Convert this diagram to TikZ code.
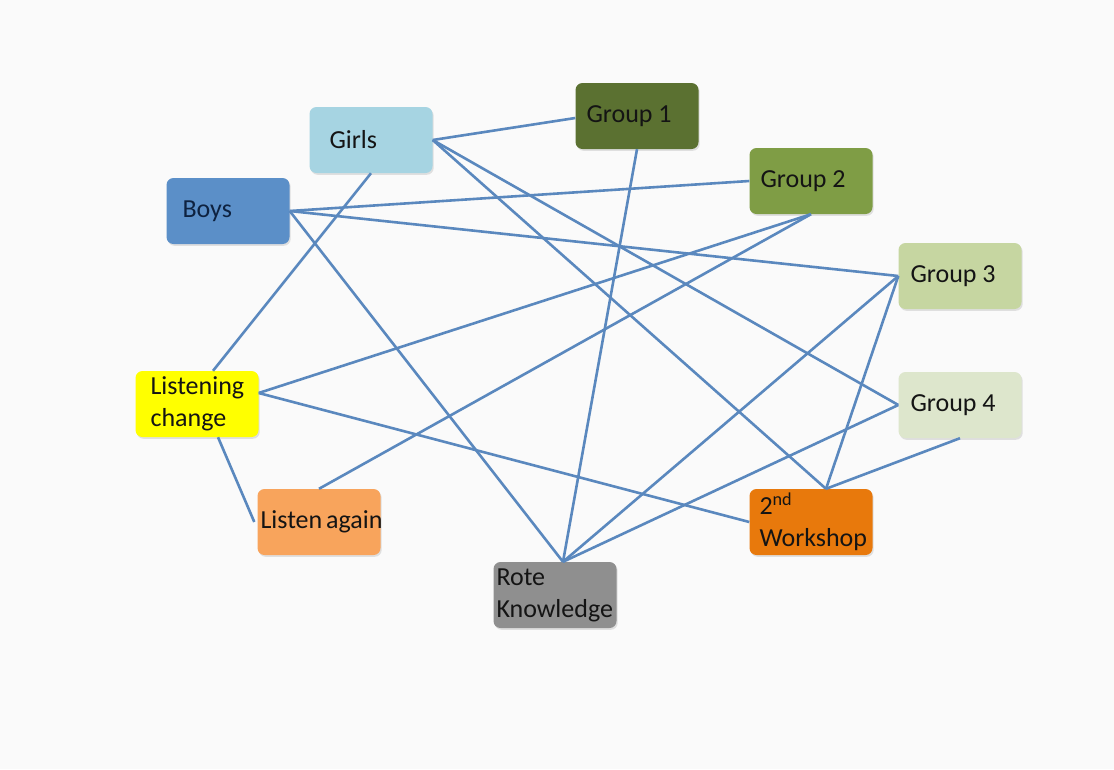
\documentclass[tikz,border=0pt]{standalone}
\usepackage{fontspec}
\setmainfont{Carlito}
\usetikzlibrary{shadows}
\definecolor{bgc}{HTML}{FAFAFA}
\definecolor{linkc}{HTML}{5A88BE}
\definecolor{girlsc}{HTML}{A6D4E2}
\definecolor{boysc}{HTML}{5B8FC8}
\definecolor{gonec}{HTML}{5B7131}
\definecolor{gtwoc}{HTML}{7F9D45}
\definecolor{gthreec}{HTML}{C6D6A1}
\definecolor{gfourc}{HTML}{DDE6CC}
\definecolor{lcc}{HTML}{FFFF00}
\definecolor{lac}{HTML}{F8A45C}
\definecolor{rotec}{HTML}{8F8F8F}
\definecolor{wsc}{HTML}{E8790C}
\definecolor{txtc}{HTML}{141414}
\definecolor{boystxt}{HTML}{0E2240}
\begin{document}
\begin{tikzpicture}[x=1pt,y=-1pt,
  box/.style={rectangle, rounded corners=7pt, minimum width=123pt, minimum height=66pt,
    align=flush left, text=txtc, font=\fontsize{26}{32}\selectfont, inner ysep=1pt,
    drop shadow={opacity=0.22, shadow xshift=1.2pt, shadow yshift=-1.8pt}},
  link/.style={draw=linkc, line width=2.6pt}]
\fill[bgc] (0,0) rectangle (1114,769);
\useasboundingbox (0,0) rectangle (1114,769);

\node[box, fill=girlsc, inner xsep=20pt, text width=83pt] (girls) at (371,140) {Girls};
\node[box, fill=boysc, inner xsep=16pt, text width=91pt, text=boystxt] (boys) at (228,211) {Boys};
\node[box, fill=gonec, inner xsep=11pt, text width=101pt] (g1) at (637,116) {Group 1};
\node[box, fill=gtwoc, inner xsep=11pt, text width=101pt] (g2) at (811,181) {Group 2};
\node[box, fill=gthreec, inner xsep=12pt, text width=99pt] (g3) at (960,276) {Group 3};
\node[box, fill=gfourc, inner xsep=12pt, text width=99pt] (g4) at (960,405) {Group 4};
\node[box, fill=lcc, inner xsep=15pt, text width=93pt] (lc) at (197,404) {Listening\\change};
\node[box, fill=lac, inner xsep=3pt, text width=117pt] (la) at (319,522) {Listen~again};
\node[box, fill=rotec, inner xsep=3pt, text width=117pt] (rote) at (555,595) {Rote\\Knowledge};
\node[box, fill=wsc, inner xsep=10pt, text width=103pt] (ws) at (811,522) {2\textsuperscript{nd}\\Workshop};

\draw[link] (girls.east) -- ([yshift=-2pt]g1.west);
\draw[link] (girls.east) -- (g4.west);
\draw[link] (girls.east) -- ([xshift=15pt]ws.north);
\draw[link] (girls.south) -- ([xshift=16pt]lc.north);
\draw[link] (boys.east) -- (g2.west);
\draw[link] (boys.east) -- (g3.west);
\draw[link] (boys.east) -- ([xshift=8pt]rote.north);
\draw[link] (g1.south) -- ([xshift=8pt]rote.north);
\draw[link] (g2.south) -- ([yshift=11pt]lc.east);
\draw[link] (g2.south) -- (la.north);
\draw[link] (g3.west) -- ([xshift=8pt]rote.north);
\draw[link] (g3.west) -- ([xshift=15pt]ws.north);
\draw[link] (g4.west) -- ([xshift=8pt]rote.north);
\draw[link] (g4.south) -- ([xshift=15pt]ws.north);
\draw[link] ([yshift=11pt]lc.east) -- (ws.west);
\draw[link] ([xshift=21pt]lc.south) -- ([xshift=-3pt]la.west);
\end{tikzpicture}
\end{document}
